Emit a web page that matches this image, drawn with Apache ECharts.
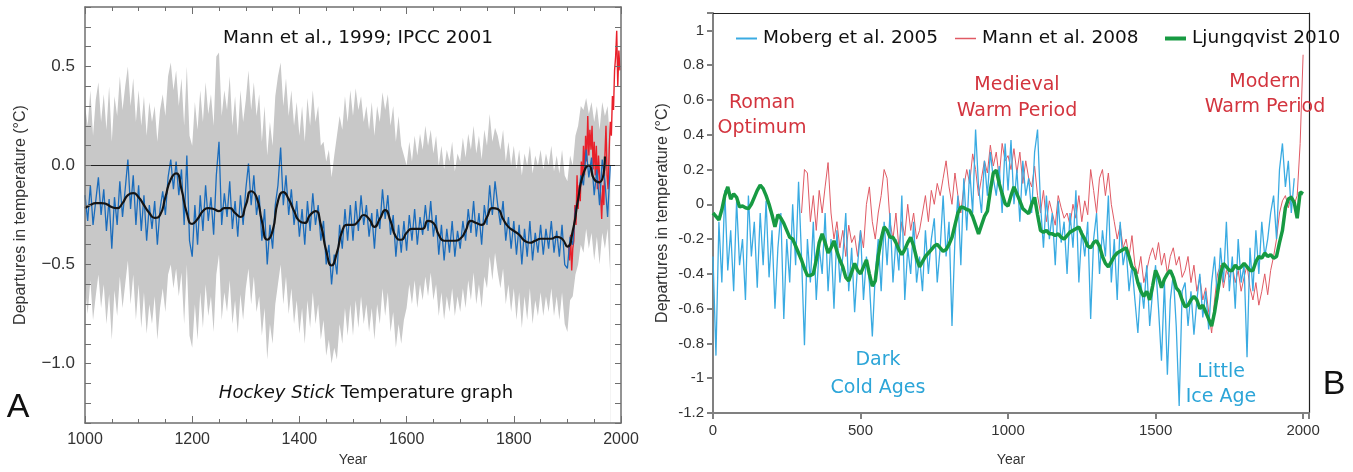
<!DOCTYPE html>
<html>
<head>
<meta charset="utf-8">
<script src="https://cdn.jsdelivr.net/npm/echarts@6/dist/echarts.min.js"></script>
<style>
  html, body { margin: 0; padding: 0; background: #fff; }
  #chart { width: 1353px; height: 472px; }
</style>
</head>
<body>
<div id="chart"></div>
<script>
// ---- Panel A: Mann et al. 1999 ----
const mbhStart = 1000; // 5-year steps
const mbhBlue = [
  -0.15, -0.28, -0.10, -0.30, -0.18, -0.06, -0.25, -0.12, -0.33, -0.17,
  -0.42, -0.16, -0.30, -0.08, -0.26, -0.12, 0.03, -0.22, -0.05, -0.30,
  -0.10, -0.33, -0.15, -0.38, -0.20, -0.32, -0.18, -0.40, -0.22, -0.13,
  -0.25, -0.06, 0.03, -0.12, 0.02, -0.15, -0.02, -0.30, 0.05, -0.38,
  -0.46, -0.20, -0.40, -0.15, -0.33, -0.10, -0.28, -0.16, -0.35, -0.05,
  0.12, -0.30, -0.14, -0.26, -0.08, -0.32, -0.18, -0.36, -0.15, -0.30,
  -0.12, 0.01, -0.20, -0.05, -0.25, -0.15, -0.38, -0.22, -0.50, -0.30,
  -0.42, -0.20, -0.10, 0.09, -0.20, -0.05, -0.25, -0.12, -0.30, -0.18,
  -0.36, -0.22, -0.40, -0.18, -0.33, -0.14, -0.30, -0.20, -0.38, -0.28,
  -0.50, -0.40, -0.60, -0.45, -0.55, -0.30, -0.42, -0.22, -0.38, -0.20,
  -0.38, -0.18, -0.33, -0.15, -0.30, -0.20, -0.36, -0.24, -0.42, -0.22,
  -0.32, -0.12, -0.27, -0.15, -0.35, -0.25, -0.46, -0.30, -0.44, -0.28,
  -0.43, -0.25, -0.38, -0.22, -0.40, -0.26, -0.35, -0.20, -0.33, -0.18,
  -0.36, -0.25, -0.45, -0.30, -0.48, -0.32, -0.44, -0.28, -0.46, -0.33,
  -0.42, -0.28, -0.38, -0.22, -0.34, -0.18, -0.36, -0.24, -0.40, -0.20,
  -0.30, -0.10, -0.25, -0.08, -0.20, -0.30, -0.18, -0.38, -0.26, -0.42,
  -0.28, -0.45, -0.30, -0.50, -0.32, -0.46, -0.28, -0.48, -0.34, -0.44,
  -0.30, -0.45, -0.32, -0.42, -0.28, -0.44, -0.33, -0.46, -0.30, -0.50,
  -0.52, -0.36, -0.40, -0.22, -0.18, -0.05, -0.10, 0.08, -0.06, 0.04,
  -0.15, -0.02, -0.20, 0.03, -0.08, -0.26, 0.0
];
const mbhUpper = [
  0.30, 0.20, 0.38, 0.15, 0.33, 0.42, 0.22, 0.36, 0.18, 0.40,
  0.12, 0.35, 0.25, 0.45, 0.28, 0.40, 0.50, 0.30, 0.44, 0.22,
  0.38, 0.20, 0.35, 0.15, 0.32, 0.22, 0.30, 0.12, 0.28, 0.36,
  0.25, 0.45, 0.52, 0.38, 0.48, 0.30, 0.44, 0.20, 0.50, 0.15,
  0.10, 0.32, 0.18, 0.38, 0.22, 0.42, 0.26, 0.36, 0.20, 0.55,
  0.57, 0.25, 0.38, 0.28, 0.45, 0.20, 0.35, 0.15, 0.38, 0.22,
  0.33, 0.48, 0.28, 0.42, 0.25, 0.36, 0.12, 0.30, 0.05, 0.22,
  0.10, 0.35, 0.45, 0.52, 0.30, 0.44, 0.25, 0.38, 0.20, 0.32,
  0.15, 0.30, 0.12, 0.34, 0.20, 0.38, 0.22, 0.30, 0.10, 0.12,
  0.02, 0.08, -0.06, 0.05, 0.15, 0.25, 0.18, 0.35, 0.22, 0.38,
  0.25, 0.39, 0.28, 0.35, 0.22, 0.30, 0.18, 0.32, 0.15, 0.30,
  0.22, 0.37, 0.28, 0.36, 0.20, 0.30, 0.12, 0.25, 0.10, 0.05,
  0.0, 0.12, 0.02, 0.15, 0.05, 0.16, 0.08, 0.20, 0.10, 0.18,
  0.06, 0.15, 0.0, 0.10, -0.02, 0.08, 0.02, 0.12, -0.03, 0.06,
  0.02, 0.14, 0.04, 0.16, 0.08, 0.20, 0.06, 0.15, 0.03, 0.18,
  0.10, 0.26, 0.12, 0.19, 0.15, 0.08, 0.18, 0.02, 0.12, 0.0,
  0.10, -0.02, 0.08, -0.05, 0.06, 0.0, 0.10, -0.04, 0.05, 0.0,
  0.08, -0.02, 0.06, 0.0, 0.10, -0.03, 0.05, -0.04, 0.08, -0.05,
  -0.08, 0.05, 0.0, 0.15, 0.20, 0.30, 0.28, 0.34, 0.26, 0.32,
  0.22, 0.30, 0.18, 0.32, 0.25, 0.30, 0.10
];
const mbhLower = [
  -0.62, -0.75, -0.58, -0.78, -0.66, -0.55, -0.72, -0.60, -0.80, -0.65,
  -0.88, -0.63, -0.76, -0.56, -0.72, -0.60, -0.48, -0.70, -0.55, -0.78,
  -0.60, -0.82, -0.64, -0.85, -0.70, -0.80, -0.66, -0.88, -0.72, -0.62,
  -0.74, -0.55, -0.50, -0.62, -0.52, -0.66, -0.54, -0.80, -0.50, -0.86,
  -0.92, -0.70, -0.88, -0.64, -0.82, -0.60, -0.76, -0.66, -0.84, -0.55,
  -0.45, -0.78, -0.64, -0.74, -0.58, -0.80, -0.68, -0.85, -0.65, -0.78,
  -0.62, -0.52, -0.70, -0.56, -0.74, -0.66, -0.86, -0.72, -0.98, -0.80,
  -0.90, -0.70, -0.60, -0.50, -0.70, -0.56, -0.75, -0.62, -0.80, -0.68,
  -0.85, -0.72, -0.90, -0.68, -0.82, -0.64, -0.80, -0.70, -0.88, -0.78,
  -0.96, -0.88, -1.00, -0.92, -0.98, -0.80, -0.90, -0.72, -0.86, -0.70,
  -0.86, -0.68, -0.82, -0.66, -0.80, -0.70, -0.84, -0.72, -0.88, -0.70,
  -0.80, -0.62, -0.76, -0.64, -0.84, -0.74, -0.92, -0.80, -0.90, -0.78,
  -0.72, -0.60, -0.70, -0.58, -0.72, -0.60, -0.68, -0.56, -0.66, -0.54,
  -0.68, -0.60, -0.76, -0.64, -0.78, -0.66, -0.74, -0.62, -0.76, -0.66,
  -0.74, -0.62, -0.72, -0.58, -0.68, -0.54, -0.70, -0.60, -0.72, -0.56,
  -0.62, -0.46, -0.58, -0.44, -0.54, -0.62, -0.52, -0.70, -0.60, -0.74,
  -0.62, -0.78, -0.64, -0.82, -0.66, -0.78, -0.62, -0.80, -0.68, -0.76,
  -0.64, -0.76, -0.66, -0.74, -0.62, -0.76, -0.66, -0.78, -0.64, -0.80,
  -0.84, -0.68, -0.66, -0.55, -0.50, -0.40, -0.44, -0.32, -0.42, -0.34,
  -0.48, -0.36, -0.50, -0.34, -0.42, -0.32, -0.55
];
const mbhSmoothStart = 1000; // 10-year steps
const mbhSmooth = [
  -0.215, -0.20, -0.19, -0.19, -0.195, -0.21, -0.215, -0.19, -0.15, -0.14,
  -0.16, -0.20, -0.24, -0.265, -0.25, -0.16, -0.07, -0.04, -0.12, -0.24,
  -0.295, -0.27, -0.23, -0.215, -0.22, -0.23, -0.215, -0.215, -0.24, -0.26,
  -0.20, -0.13, -0.16, -0.28, -0.375, -0.33, -0.18, -0.135, -0.17, -0.23,
  -0.28, -0.29, -0.25, -0.23, -0.30, -0.43, -0.505, -0.44, -0.33, -0.30,
  -0.30, -0.28, -0.25, -0.27, -0.31, -0.27, -0.225, -0.28, -0.36, -0.375,
  -0.34, -0.32, -0.32, -0.32, -0.28, -0.29, -0.35, -0.38, -0.38, -0.38,
  -0.37, -0.33, -0.28, -0.29, -0.30, -0.26, -0.215, -0.22, -0.27, -0.31,
  -0.33, -0.35, -0.38, -0.39, -0.38, -0.37, -0.37, -0.37, -0.36, -0.37,
  -0.41, -0.33, -0.17, -0.04, 0.0, -0.07, -0.085, 0.045
];
const instrStart = 1902; // 2-year steps
const instrumental = [
  -0.40, -0.48, -0.35, -0.53, -0.42, -0.38, -0.20, -0.30, -0.05, -0.22,
  -0.10, -0.18, 0.02, -0.08, 0.10, -0.05, 0.15, 0.02, 0.25, 0.05,
  0.18, 0.08, 0.20, -0.02, 0.12, -0.05, 0.10, -0.12, 0.05, -0.05,
  -0.15, -0.27, -0.10, -0.20, 0.05, 0.20, -0.05, -0.12, 0.08, 0.22,
  0.15, 0.35, 0.28, 0.48, 0.55, 0.68, 0.40, 0.58, 0.48
];

// ---- Panel B: three reconstructions ----
const mobergStart = 0; // 10-year steps
const moberg = [
  -0.30, -0.87, -0.10, -0.45, 0.08, -0.38, -0.15, -0.50, 0.02, -0.35,
  -0.20, -0.55, 0.05, -0.30, -0.10, -0.48, -0.05, -0.35, 0.02, -0.42,
  -0.15, -0.60, -0.25, -0.05, -0.66, -0.20, -0.45, 0.00, -0.35, 0.13,
  -0.30, -0.81, -0.20, -0.45, -0.10, -0.55, -0.25, -0.40, -0.05, -0.50,
  -0.20, -0.60, -0.15, -0.45, -0.30, -0.05, -0.50, -0.25, -0.62, -0.35,
  -0.15, -0.55, -0.30, -0.45, -0.76, -0.40, -0.20, -0.50, -0.10, -0.35,
  -0.05, -0.45, -0.20, -0.38, 0.05, -0.55, -0.25, -0.40, -0.10, -0.45,
  -0.30, -0.50, -0.15, -0.40, -0.20, -0.08, -0.45, -0.25, 0.05, -0.30,
  -0.10, -0.70, -0.20, 0.05, -0.35, 0.15, -0.15, 0.20, -0.05, 0.43,
  0.10, -0.05, 0.25, 0.05, 0.30, 0.15, 0.05, 0.22, -0.05, 0.35,
  0.08, 0.37, 0.0, 0.20, -0.10, 0.25, 0.05, 0.15, -0.05, 0.30,
  0.43, 0.0, -0.25, 0.05, -0.20, -0.05, -0.35, 0.02, -0.22, -0.10,
  -0.40, -0.05, -0.25, 0.08, -0.45, -0.15, -0.30, -0.10, -0.66, -0.20,
  -0.05, -0.40, -0.15, -0.30, 0.05, -0.45, -0.20, -0.55, -0.10, -0.35,
  -0.25, -0.50, -0.35, -0.55, -0.74, -0.45, -0.60, -0.35, -0.70, -0.50,
  -0.35, -0.60, -0.90, -0.45, -0.98, -0.55, -0.40, -0.70, -1.16, -0.50,
  -0.45, -0.70, -0.50, -0.75, -0.55, -0.40, -0.65, -0.50, -0.72, -0.45,
  -0.30, -0.55, -0.25, -0.45, -0.10, -0.50, -0.30, -0.60, -0.20, -0.45,
  -0.35, -0.88, -0.25, -0.50, -0.15, -0.40, -0.10, -0.30, -0.20, -0.05,
  0.05, -0.20, 0.20, 0.35, 0.10, 0.25, -0.05, 0.15
];
const mann08Start = 300; // 10-year steps
const mann08 = [
  -0.05, 0.20, 0.18, -0.10, 0.05, -0.15, 0.08, -0.05, 0.10, 0.24,
  -0.05, -0.20, -0.10, -0.25, -0.15, -0.30, -0.12, -0.22, -0.18, -0.30,
  -0.15, -0.25, 0.0, 0.10, -0.10, -0.20, -0.05, 0.05, 0.20, 0.15,
  -0.10, -0.20, -0.05, -0.25, -0.10, -0.18, 0.0, -0.15, -0.05, -0.20,
  -0.15, -0.05, 0.05, -0.10, 0.08, 0.0, 0.12, 0.05, 0.15, 0.25,
  0.10, 0.0, 0.18, 0.05, -0.05, 0.10, 0.20, 0.12, 0.29, 0.20,
  0.05, 0.15, 0.25, 0.18, 0.34, 0.22, 0.30, 0.15, 0.35, 0.25,
  0.28, 0.20, 0.32, 0.18, 0.30, 0.12, 0.25, 0.15, 0.10, 0.22,
  0.05, -0.05, 0.08, -0.10, 0.02, -0.05, -0.12, 0.05, -0.02, -0.08,
  -0.05, -0.12, 0.0, -0.08, 0.05, -0.10, 0.02, -0.06, 0.20, 0.08,
  -0.05, 0.15, 0.20, 0.05, 0.18, 0.0, -0.10, -0.20, -0.12, -0.25,
  -0.20, -0.30, -0.18, -0.35, -0.40, -0.30, -0.45, -0.38, -0.30, -0.25,
  -0.32, -0.22, -0.35, -0.28, -0.40, -0.30, -0.25, -0.35, -0.30, -0.42,
  -0.38, -0.30, -0.45, -0.35, -0.50, -0.42, -0.55, -0.48, -0.62, -0.74,
  -0.55, -0.40, -0.35, -0.48, -0.38, -0.42, -0.35, -0.45, -0.38, -0.50,
  -0.42, -0.35, -0.48, -0.55, -0.45, -0.58, -0.50, -0.40, -0.52, -0.38,
  -0.30, -0.20, -0.05, 0.02, 0.05, -0.02, 0.05, 0.0, 0.05, 0.35,
  0.86
];
const ljungStart = 0; // 10-year steps
const ljungqvist = [
  -0.05, -0.07, -0.09, -0.03, 0.05, 0.10, 0.03, 0.06, 0.04, -0.015,
  -0.01, -0.02, -0.025, 0.0, 0.04, 0.08, 0.11, 0.09, 0.05, 0.0,
  -0.06, -0.13, -0.06, -0.08, -0.11, -0.15, -0.19, -0.20, -0.24, -0.28,
  -0.32, -0.37, -0.41, -0.41, -0.40, -0.32, -0.22, -0.17, -0.22, -0.28,
  -0.25, -0.21, -0.27, -0.32, -0.36, -0.42, -0.44, -0.39, -0.34, -0.38,
  -0.40, -0.36, -0.32, -0.40, -0.47, -0.44, -0.30, -0.20, -0.13, -0.15,
  -0.19, -0.19, -0.22, -0.26, -0.29, -0.26, -0.22, -0.19, -0.24, -0.31,
  -0.36, -0.33, -0.30, -0.28, -0.26, -0.24, -0.23, -0.25, -0.27, -0.26,
  -0.23, -0.19, -0.12, -0.05, -0.015, -0.02, -0.03, -0.035, -0.07, -0.12,
  -0.17, -0.12, -0.07, -0.04, 0.08, 0.18, 0.196, 0.12, 0.06, 0.004,
  -0.01, 0.05, 0.10, 0.06, 0.02, -0.025, -0.04, -0.054, 0.0, 0.04,
  -0.06, -0.15, -0.16, -0.15, -0.17, -0.17, -0.18, -0.17, -0.19, -0.20,
  -0.18, -0.16, -0.15, -0.14, -0.13, -0.17, -0.20, -0.24, -0.25, -0.22,
  -0.21, -0.24, -0.30, -0.34, -0.36, -0.33, -0.30, -0.28, -0.27, -0.26,
  -0.25, -0.30, -0.36, -0.38, -0.45, -0.50, -0.53, -0.50, -0.55, -0.47,
  -0.38, -0.42, -0.48, -0.43, -0.40, -0.38, -0.42, -0.48, -0.50, -0.55,
  -0.59, -0.58, -0.55, -0.53, -0.55, -0.60, -0.58, -0.62, -0.66, -0.70,
  -0.62, -0.51, -0.40, -0.34, -0.36, -0.38, -0.38, -0.35, -0.37, -0.36,
  -0.34, -0.36, -0.38, -0.38, -0.33, -0.30, -0.31, -0.28, -0.30, -0.29,
  -0.31, -0.30, -0.22, -0.15, -0.02, 0.03, 0.04, 0.01, -0.08, 0.07,
  0.06
];

const pairs = (start, step, vals) => vals.map((v, i) => [start + i * step, v]);

const sans = 'Liberation Sans';
const verd = 'DejaVu Sans';
const greyAxis = '#6f6f6f';

// one legend per entry so each sample line can keep its own thickness
const legendEntry = (name, left, color, h) => ({
  left, top: 24, icon: 'rect', itemWidth: 21, itemHeight: h, itemGap: 0,
  textStyle: { fontFamily: verd, fontSize: 18.5, color: '#111', padding: [0, 0, 0, 1] },
  data: [{ name, itemStyle: { color } }]
});

const chart = echarts.init(document.getElementById('chart'));
const option = {
  backgroundColor: '#fff',
  animation: false,
  grid: [
    { left: 85, top: 7, width: 536, height: 420 },
    { left: 713, top: 13, width: 596, height: 400 }
  ],
  legend: [
    legendEntry('Moberg et al. 2005', 731, '#3aabe2', 2),
    legendEntry('Mann et al. 2008', 950, '#e05a64', 1.5),
    legendEntry('Ljungqvist 2010', 1160, '#179a42', 4)
  ],
  xAxis: [
    {
      gridIndex: 0, type: 'value', min: 1000, max: 2000, interval: 200, z: 5,
      axisLine: { onZero: false, lineStyle: { color: greyAxis, width: 1.5 } },
      axisTick: { inside: true, length: 7, lineStyle: { color: greyAxis } },
      minorTick: { show: true, splitNumber: 4, length: 4, lineStyle: { color: greyAxis } },
      splitLine: { show: false },
      axisLabel: { fontFamily: sans, fontSize: 16, color: '#333', margin: 9, formatter: (v) => String(v) },
      name: 'Year', nameLocation: 'middle', nameGap: 30,
      nameTextStyle: { fontFamily: sans, fontSize: 14, color: '#333' }
    },
    {
      gridIndex: 0, type: 'value', position: 'top', min: 1000, max: 2000, interval: 200, z: 5,
      axisLine: { onZero: false, lineStyle: { color: greyAxis, width: 1.5 } },
      axisTick: { inside: true, length: 7, lineStyle: { color: greyAxis } },
      minorTick: { show: true, splitNumber: 4, length: 4, lineStyle: { color: greyAxis } },
      splitLine: { show: false }, axisLabel: { show: false }
    },
    {
      gridIndex: 1, type: 'value', min: 0, max: 2020, interval: 500,
      axisLine: { onZero: false, lineStyle: { color: '#808080', width: 2 } },
      axisTick: { length: 6, lineStyle: { color: '#808080', width: 2 } },
      splitLine: { show: false },
      axisLabel: {
        fontFamily: sans, fontSize: 15, color: '#333', margin: 10,
        formatter: (v) => (v % 500 === 0 ? String(v) : '')
      },
      name: 'Year', nameLocation: 'middle', nameGap: 40,
      nameTextStyle: { fontFamily: sans, fontSize: 14, color: '#333' }
    },
    {
      gridIndex: 1, type: 'value', position: 'top', min: 0, max: 2020,
      axisLine: { onZero: false, lineStyle: { color: '#222', width: 1.2 } },
      axisTick: { show: false }, axisLabel: { show: false }, splitLine: { show: false }
    }
  ],
  yAxis: [
    {
      gridIndex: 0, type: 'value', min: -1.3, max: 0.8, interval: 0.1, z: 5,
      axisLine: { show: true, onZero: false, lineStyle: { color: greyAxis, width: 1.5 } },
      axisTick: { show: true, inside: true, length: 6, lineStyle: { color: greyAxis } },
      splitLine: { show: false },
      axisLabel: {
        fontFamily: sans, fontSize: 17, color: '#333', margin: 10,
        formatter: (v) => {
          const r = Math.round(v * 10);
          if (r % 5 !== 0) return '';
          return (r < 0 ? '\u2212' : '') + Math.abs(r / 10).toFixed(1);
        }
      },
      name: 'Departures in temperature (\u00B0C)', nameLocation: 'middle', nameGap: 56,
      nameTextStyle: { fontFamily: sans, fontSize: 16, color: '#333' }
    },
    {
      gridIndex: 0, type: 'value', position: 'right', min: -1.3, max: 0.8, interval: 0.1, z: 5,
      axisLine: { show: true, onZero: false, lineStyle: { color: greyAxis, width: 1.5 } },
      axisTick: { show: true, inside: true, length: 6, lineStyle: { color: greyAxis } },
      splitLine: { show: false }, axisLabel: { show: false }
    },
    {
      gridIndex: 1, type: 'value', min: -1.2, max: 1.1, interval: 0.2,
      axisLine: { show: true, onZero: false, lineStyle: { color: '#808080', width: 2 } },
      axisTick: { show: true, length: 6, lineStyle: { color: '#808080', width: 2 } },
      splitLine: { show: false },
      axisLabel: {
        fontFamily: sans, fontSize: 15, color: '#333', margin: 9,
        formatter: (v) => {
          const r = Math.round(v * 10);
          return r % 2 !== 0 ? '' : String(r / 10);
        }
      },
      name: 'Departures in temperature (\u00B0C)', nameLocation: 'middle', nameGap: 42,
      nameTextStyle: { fontFamily: sans, fontSize: 16, color: '#333' }
    },
    {
      gridIndex: 1, type: 'value', position: 'right', min: -1.2, max: 1.1,
      axisLine: { show: true, onZero: false, lineStyle: { color: '#222', width: 1.2 } },
      axisTick: { show: false }, axisLabel: { show: false }, splitLine: { show: false }
    }
  ],
  series: [
    {
      // grey 2-sigma band: upper filled down to the axis, lower masked in white
      name: 'upper', type: 'line', xAxisIndex: 0, yAxisIndex: 0,
      symbol: 'none', silent: true, lineStyle: { width: 0, opacity: 0 },
      areaStyle: { color: '#c8c8c8', opacity: 1, origin: 'start' },
      data: pairs(mbhStart, 5, mbhUpper)
    },
    {
      name: 'lower', type: 'line', xAxisIndex: 0, yAxisIndex: 0,
      symbol: 'none', silent: true, lineStyle: { width: 0, opacity: 0 },
      areaStyle: { color: '#ffffff', opacity: 1, origin: 'start' },
      data: pairs(mbhStart, 5, mbhLower)
    },
    {
      name: 'instrumental', type: 'line', xAxisIndex: 0, yAxisIndex: 0,
      symbol: 'none', lineStyle: { color: '#e8202a', width: 1.4 },
      data: pairs(instrStart, 2, instrumental)
    },
    {
      name: 'reconstruction', type: 'line', xAxisIndex: 0, yAxisIndex: 0,
      symbol: 'none', lineStyle: { color: '#1a6cbc', width: 1.3 },
      data: pairs(mbhStart, 5, mbhBlue)
    },
    {
      name: 'smoothed', type: 'line', xAxisIndex: 0, yAxisIndex: 0,
      symbol: 'none', smooth: 0.6, lineStyle: { color: '#141414', width: 2.2 },
      data: pairs(mbhSmoothStart, 10, mbhSmooth),
      markLine: {
        silent: true, symbol: 'none', label: { show: false },
        lineStyle: { color: '#222', width: 1, type: 'solid' },
        data: [{ yAxis: 0 }]
      }
    },
    {
      name: 'Mann et al. 2008', type: 'line', xAxisIndex: 2, yAxisIndex: 2,
      symbol: 'none', color: '#e05a64', lineStyle: { color: '#e05a64', width: 1 },
      data: pairs(mann08Start, 10, mann08)
    },
    {
      name: 'Moberg et al. 2005', type: 'line', xAxisIndex: 2, yAxisIndex: 2,
      symbol: 'none', color: '#3aabe2', lineStyle: { color: '#3aabe2', width: 1.3 },
      data: pairs(mobergStart, 10, moberg)
    },
    {
      name: 'Ljungqvist 2010', type: 'line', xAxisIndex: 2, yAxisIndex: 2,
      symbol: 'none', color: '#179a42', lineStyle: { color: '#179a42', width: 3.5 },
      data: pairs(ljungStart, 10, ljungqvist)
    }
  ],
  graphic: [
    {
      type: 'text', x: 358, y: 38, z: 100,
      style: { text: 'Mann et al., 1999; IPCC 2001', fontFamily: verd, fontSize: 18.5, fill: '#111', align: 'center', verticalAlign: 'middle' }
    },
    {
      type: 'text', x: 366, y: 393, z: 100,
      style: {
        text: '{i|Hockey Stick} Temperature graph', fontFamily: verd, fontSize: 18, fill: '#111',
        align: 'center', verticalAlign: 'middle',
        rich: { i: { fontStyle: 'italic', fontFamily: verd, fontSize: 18, fill: '#111' } }
      }
    },
    {
      type: 'text', x: 18, y: 408, z: 100,
      style: { text: 'A', fontFamily: sans, fontSize: 34, fill: '#111', align: 'center', verticalAlign: 'middle' }
    },
    {
      type: 'text', x: 1334, y: 385, z: 100,
      style: { text: 'B', fontFamily: sans, fontSize: 34, fill: '#111', align: 'center', verticalAlign: 'middle' }
    },
    {
      type: 'text', x: 762, y: 116, z: 100,
      style: { text: 'Roman\nOptimum', fontFamily: verd, fontSize: 19, lineHeight: 25, fill: '#d3343e', align: 'center', verticalAlign: 'middle' }
    },
    {
      type: 'text', x: 1017, y: 98, z: 100,
      style: { text: 'Medieval\nWarm Period', fontFamily: verd, fontSize: 19, lineHeight: 26, fill: '#d3343e', align: 'center', verticalAlign: 'middle' }
    },
    {
      type: 'text', x: 1265, y: 95, z: 100,
      style: { text: 'Modern\nWarm Period', fontFamily: verd, fontSize: 19, lineHeight: 25, fill: '#d3343e', align: 'center', verticalAlign: 'middle' }
    },
    {
      type: 'text', x: 878, y: 374, z: 100,
      style: { text: 'Dark\nCold Ages', fontFamily: verd, fontSize: 19, lineHeight: 28, fill: '#2ca5d8', align: 'center', verticalAlign: 'middle' }
    },
    {
      type: 'text', x: 1221, y: 385, z: 100,
      style: { text: 'Little\nIce Age', fontFamily: verd, fontSize: 19, lineHeight: 25, fill: '#2ca5d8', align: 'center', verticalAlign: 'middle' }
    }
  ]
};
chart.setOption(option);
</script>
</body>
</html>
